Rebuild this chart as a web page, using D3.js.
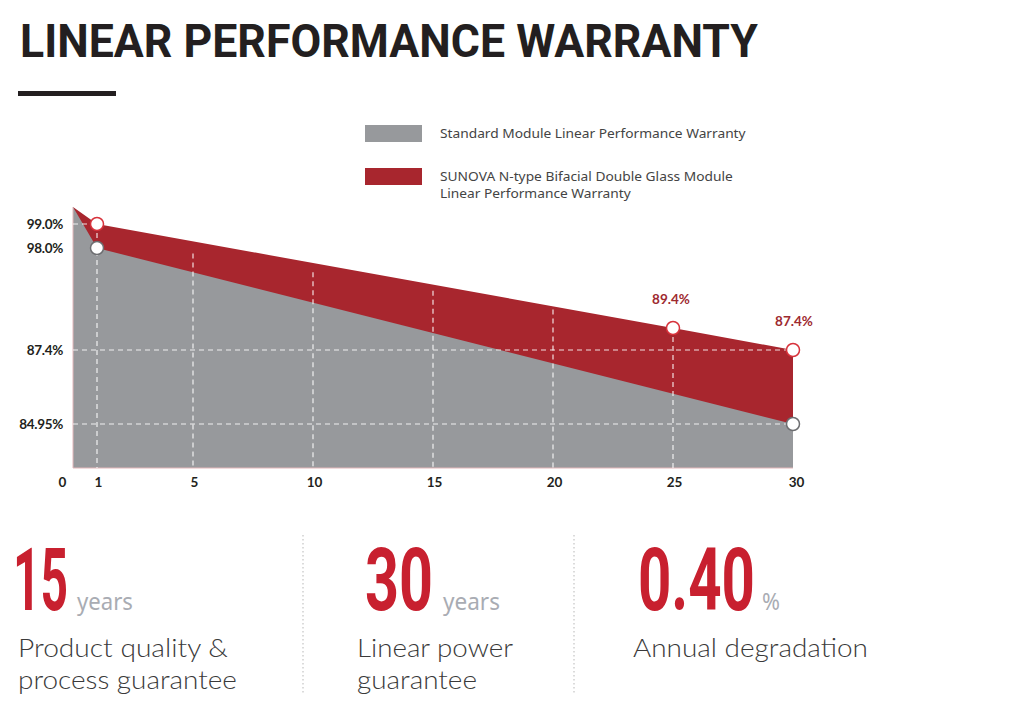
<!DOCTYPE html>
<html>
<head>
<meta charset="utf-8">
<script src="https://cdn.jsdelivr.net/npm/d3@7/dist/d3.min.js"></script>
<style>
  html, body { margin: 0; padding: 0; background: #fff; }
  svg { display: block; }
</style>
</head>
<body>
<svg id="chart" width="1024" height="725"></svg>
<script>
// ---------- data ----------
const standardYears  = [0, 1, 30];
const standardValues = [100, 98.0, 84.95];
const sunovaYears    = [0, 1, 25, 30];
const sunovaValues   = [100, 99.0, 89.4, 87.4];
const xTickValues    = [0, 1, 5, 10, 15, 20, 25, 30];
const yTickValues    = [99.0, 98.0, 87.4, 84.95];
const yTickLabels    = ["99.0%", "98.0%", "87.4%", "84.95%"];
const gridYears      = [1, 5, 10, 15, 20, 25];
const gridValues     = [99.0, 87.4, 84.95];
const gridValueEnds  = [1, 30, 30];
const sunovaCircleYears   = [1, 25, 30];
const standardCircleYears = [1, 30];
const labelYears     = [25, 30];
const legendLabels   = [
  ["Standard Module Linear Performance Warranty"],
  ["SUNOVA N-type Bifacial Double Glass Module", "Linear Performance Warranty"]
];
const statNumbers = ["15", "30", "0.40"];
const statUnits   = ["years", "years", "%"];
const statTexts   = [["Product quality &", "process guarantee"], ["Linear power", "guarantee"], ["Annual degradation"]];

const standard = standardYears.map((x, i) => ({x, v: standardValues[i]}));
const sunova   = sunovaYears.map((x, i) => ({x, v: sunovaValues[i]}));

// ---------- setup ----------
const RED = "#a8262e", GRAY = "#97999c", BIGRED = "#c8202f";
const svg = d3.select("#chart");

// helper: draw text squeezed to a target width with a scale transform
function fitText(parent, tx, ty, targetW, text, attrs) {
  const g = parent.append("g").attr("transform", `translate(${tx},${ty})`);
  const t = g.append("text").attr("x", 0).attr("y", 0).text(text);
  Object.entries(attrs).forEach(([k, v]) => t.attr(k, v));
  const w = t.node().getComputedTextLength();
  if (w > 0) g.attr("transform", `translate(${tx},${ty}) scale(${targetW / w},1)`);
  return t;
}

// title
fitText(svg, 20, 57, 738, "LINEAR PERFORMANCE WARRANTY", {
  "font-family": "Roboto, 'Noto Sans', sans-serif", "font-weight": 700, "font-size": 47, "fill": "#231f20"
});
svg.append("rect").attr("x", 18).attr("y", 91).attr("width", 98).attr("height", 5).attr("fill", "#231f20");

// legend
const legendColors = [GRAY, RED];
const legendY = [125, 168];
const legendW = [[306], [293, 191]];
legendLabels.forEach((lines, i) => {
  svg.append("rect").attr("x", 365).attr("y", legendY[i]).attr("width", 57).attr("height", 17).attr("fill", legendColors[i]);
  lines.forEach((t, j) => {
    fitText(svg, 440, legendY[i] + 13 + j * 17, legendW[i][j], t, {
      "font-family": "'Noto Sans', sans-serif", "font-size": 13.5, "fill": "#444"
    });
  });
});

// scales
const x = d3.scaleLinear().domain([0, 30]).range([73, 793]);
const y = d3.scaleLinear().domain([84.95, 87.4, 89.4, 98, 99, 100]).range([424, 350, 328, 248, 224, 207]);
const base = 468;

// areas
const area = d3.area().x(d => x(d.x)).y0(base).y1(d => y(d.v));
svg.append("path").datum(sunova).attr("d", area).attr("fill", RED);
svg.append("path").datum(standard).attr("d", area).attr("fill", GRAY);

// axis edge lines
svg.append("line").attr("x1", x(0)).attr("x2", x(0)).attr("y1", y(100)).attr("y2", base)
  .attr("stroke", "#e3b7ba").attr("stroke-width", 1);
svg.append("line").attr("x1", x(0)).attr("x2", x(30)).attr("y1", base).attr("y2", base)
  .attr("stroke", "#e3b7ba").attr("stroke-width", 1);

// grid (dashed white)
const sunovaAt = d3.scaleLinear().domain(sunovaYears).range(sunovaValues);
gridYears.forEach(g => {
  svg.append("line")
    .attr("x1", x(g)).attr("x2", x(g))
    .attr("y1", y(sunovaAt(g))).attr("y2", base)
    .attr("stroke", "#fff").attr("stroke-opacity", 0.85).attr("stroke-width", 1.2)
    .attr("stroke-dasharray", "5,4");
});
gridValues.forEach((v, i) => {
  svg.append("line")
    .attr("x1", x(0)).attr("x2", x(gridValueEnds[i]))
    .attr("y1", y(v)).attr("y2", y(v))
    .attr("stroke", "#fff").attr("stroke-opacity", 0.85).attr("stroke-width", 1.2)
    .attr("stroke-dasharray", "5,4");
});

// circles
svg.selectAll(".cs").data(standard.filter(d => standardCircleYears.includes(d.x))).enter()
  .append("circle").attr("cx", d => x(d.x)).attr("cy", d => y(d.v)).attr("r", 6.5)
  .attr("fill", "#fff").attr("stroke", "#6d6e71").attr("stroke-width", 1.5);
svg.selectAll(".cr").data(sunova.filter(d => sunovaCircleYears.includes(d.x))).enter()
  .append("circle").attr("cx", d => x(d.x)).attr("cy", d => y(d.v)).attr("r", 6.5)
  .attr("fill", "#fff").attr("stroke", "#d7323b").attr("stroke-width", 1.5);

// value labels
svg.selectAll(".vl").data(sunova.filter(d => labelYears.includes(d.x))).enter()
  .append("text")
  .attr("x", d => x(d.x) - (d.x === 25 ? 2 : -1)).attr("y", d => y(d.v) - 24)
  .attr("text-anchor", "middle")
  .attr("font-family", "Lato, 'Noto Sans', sans-serif").attr("font-weight", 700).attr("font-size", 13.5)
  .attr("fill", "#9e2a30")
  .text(d => d.v.toFixed(1) + "%");

// y tick labels
yTickValues.forEach((v, i) => {
  svg.append("text")
    .attr("x", 63).attr("y", y(v)).attr("dy", "0.35em")
    .attr("text-anchor", "end")
    .attr("font-family", "Lato, 'Noto Sans', sans-serif").attr("font-weight", 700).attr("font-size", 13.5)
    .attr("letter-spacing", -0.3)
    .attr("fill", "#231f20")
    .text(yTickLabels[i]);
});

// x axis labels
const xAxis = d3.axisBottom(x).tickValues(xTickValues).tickSize(0).tickPadding(0);
const gx = svg.append("g").attr("transform", `translate(0, ${base + 9})`).call(xAxis);
gx.select(".domain").remove();
gx.selectAll("text")
  .attr("font-family", "Lato, 'Noto Sans', sans-serif").attr("font-weight", 700).attr("font-size", 13.5)
  .attr("fill", "#231f20")
  .attr("dx", d => d === 0 ? -11 : (d === 30 ? 3 : 1));

// ---------- stats ----------
const colX      = [13, 365, 638];
const numW      = [55, 68, 117];
const unitX     = [77, 443, 762];
const unitW     = [56, 57, 18];
const textX     = [18, 357, 633];
const textW     = [[210, 219], [156, 120], [235]];
statNumbers.forEach((n, i) => {
  fitText(svg, colX[i], 610, numW[i], n, {
    "font-family": "Roboto, sans-serif", "font-weight": 700, "font-size": 87, "fill": BIGRED
  });
  fitText(svg, unitX[i], 610, unitW[i], statUnits[i], {
    "font-family": "'Noto Sans', sans-serif", "font-size": 24, "fill": "#a9acb3"
  });
  statTexts[i].forEach((t, j) => {
    fitText(svg, textX[i], 657 + j * 31.5, textW[i][j], t, {
      "font-family": "Lato, 'Noto Sans', sans-serif", "font-weight": 300, "font-size": 26, "fill": "#3a3a3a"
    });
  });
});

// dotted separators
[303, 574].forEach(sx => {
  svg.append("line")
    .attr("x1", sx).attr("x2", sx).attr("y1", 535).attr("y2", 695)
    .attr("stroke", "#c4c4c4").attr("stroke-width", 1.2)
    .attr("stroke-dasharray", "1.5,2.5");
});
</script>
</body>
</html>
